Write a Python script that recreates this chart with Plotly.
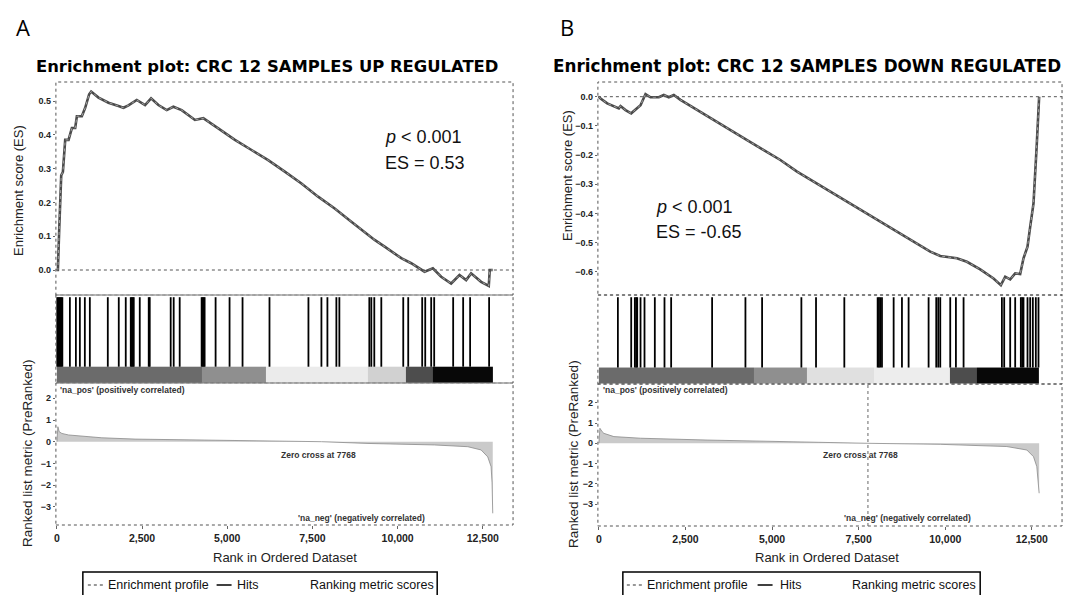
import plotly.graph_objects as go

W, H = 1080, 595


def px(x):
    return x / W


def py(y):
    return 1 - y / H


# ---------------- DATA: panel A (UP regulated) ----------------
es_rank_a = [0, 29, 68, 127, 176, 244, 342, 440, 537, 586, 732, 830, 947, 1006, 1221, 1514,
             1807, 1953, 2100, 2344, 2588, 2764, 2979, 3223, 3418, 3662, 4053, 4297, 4736,
             5225, 5713, 6201, 6689, 7178, 7666, 8154, 8643, 9131, 9326, 9619, 10107, 10400,
             10645, 10791, 11035, 11279, 11572, 11816, 12012, 12158, 12451, 12676, 12705, 12793]
es_val_a = [0.0, 0.0, 0.12, 0.28, 0.29, 0.385, 0.385, 0.42, 0.42, 0.455, 0.455, 0.48, 0.52,
            0.528, 0.51, 0.495, 0.485, 0.48, 0.487, 0.503, 0.488, 0.508, 0.488, 0.473, 0.483,
            0.473, 0.444, 0.449, 0.419, 0.385, 0.355, 0.325, 0.291, 0.256, 0.217, 0.182, 0.143,
            0.104, 0.089, 0.069, 0.035, 0.02, 0.005, -0.005, 0.005, -0.02, -0.04, -0.015, -0.03,
            -0.01, -0.035, -0.047, 0.0, 0.0]
hits_a = [10, 40, 70, 100, 130, 160, 381, 557, 674, 820, 967, 1494, 1816, 2021, 2168, 2197,
          2227, 2256, 2432, 2695, 2725, 3340, 3428, 3604, 4248, 4277, 4307, 4336, 4658, 5068,
          5449, 6240, 7383, 7764, 7940, 8203, 8291, 9170, 9229, 9316, 9522, 10166, 10312,
          10722, 10811, 10986, 11074, 11631, 11924, 12129, 12686]
metric_rank_a = [0, 29, 68, 146, 342, 830, 1318, 2295, 4248, 6201, 7768, 9131, 11084, 12060,
                 12451, 12646, 12744, 12773, 12793]
metric_val_a = [0.0, 0.69, 0.46, 0.38, 0.31, 0.23, 0.18, 0.12, 0.08, 0.05, 0.0, -0.08, -0.15,
                -0.23, -0.38, -0.7, -1.15, -1.9, -3.3]
cbar_edges_a = [0, 4248, 6133, 9131, 10254, 11035, 12793]
cbar_gray_a = [0.42, 0.56, 0.92, 0.82, 0.3, 0.03]

# ---------------- DATA: panel B (DOWN regulated) ----------------
es_rank_b = [0, 48, 240, 577, 625, 769, 933, 1106, 1202, 1346, 1490, 1731, 1875, 2019, 2163,
             2356, 2836, 3317, 3798, 4279, 4760, 5240, 5721, 6202, 6683, 7163, 7644, 8125,
             8606, 9086, 9567, 9856, 10337, 10625, 11010, 11394, 11606, 11731, 11875, 12019,
             12163, 12259, 12375, 12452, 12548, 12644, 12711]
es_val_b = [0.0, -0.006, -0.023, -0.04, -0.032, -0.046, -0.057, -0.04, -0.029, 0.009, -0.002,
            -0.002, 0.006, -0.002, 0.006, -0.011, -0.046, -0.08, -0.114, -0.149, -0.183,
            -0.217, -0.257, -0.291, -0.326, -0.36, -0.394, -0.429, -0.463, -0.497, -0.531,
            -0.546, -0.554, -0.566, -0.592, -0.623, -0.646, -0.617, -0.626, -0.606, -0.608,
            -0.554, -0.514, -0.446, -0.366, -0.16, 0.0]
hits_b = [548, 933, 1038, 1077, 1106, 1202, 1317, 1615, 1894, 2086, 3269, 4231, 4712, 5846,
          6269, 7086, 8048, 8086, 8125, 8173, 8510, 8750, 8942, 9519, 9740, 9798, 9856,
          10144, 10308, 10529, 11635, 11702, 11875, 12019, 12182, 12220, 12259, 12375,
          12452, 12529, 12615, 12692]
metric_rank_b = [0, 29, 96, 144, 433, 1202, 3125, 5048, 7768, 9856, 11779, 12356, 12548,
                 12644, 12692, 12711]
metric_val_b = [0.0, 0.74, 0.57, 0.49, 0.33, 0.25, 0.16, 0.08, 0.0, -0.05, -0.16, -0.33,
                -0.66, -1.15, -1.97, -2.46]
cbar_edges_b = [0, 4471, 6009, 7933, 10144, 10913, 12711]
cbar_gray_b = [0.42, 0.56, 0.88, 0.93, 0.3, 0.03]

zero_cross = 7768
x_ticks = [0, 2500, 5000, 7500, 10000, 12500]
x_ticktext = ["0", "2,500", "5,000", "7,500", "10,000", "12,500"]
es_ticks_a = [0.0, 0.1, 0.2, 0.3, 0.4, 0.5]
es_ticks_b = [0.0, -0.1, -0.2, -0.3, -0.4, -0.5, -0.6]
metric_ticks = [2, 1, 0, -1, -2, -3]

# ---------------- LAYOUT GEOMETRY (pixels) ----------------
panels = {
    "A": dict(x0=54, x1=512, zero=55, ppr=0.034133, es_top=82, es_bot=295,
              es_zero=270, es_unit=338.0, hit_bot=383, rk_bot=525, rk_zero=441.7,
              rk_unit=21.7),
    "B": dict(x0=597, x1=1062, zero=598, ppr=0.0347, es_top=82, es_bot=295,
              es_zero=96.7, es_unit=291.7, hit_bot=384, rk_bot=526, rk_zero=443.3,
              rk_unit=20.3),
}

fig = go.Figure()
layout_axes = {}
shapes = []
annotations = []

tick_font = dict(family="Liberation Sans", size=9, color="#222", weight="bold")
xtick_font = dict(family="Liberation Sans", size=10.5, color="#222", weight="bold")


def add_panel(key, idx0, es_r, es_v, hits, m_r, m_v, cb_edges, cb_gray, es_ticks, zline):
    g = panels[key]
    xr = [(g["x0"] - g["zero"]) / g["ppr"], (g["x1"] - g["zero"]) / g["ppr"]]
    dom = [px(g["x0"]), px(g["x1"])]
    es_rng = [(g["es_zero"] - g["es_bot"]) / g["es_unit"], (g["es_zero"] - g["es_top"]) / g["es_unit"]]
    rk_rng = [(g["rk_zero"] - g["rk_bot"]) / g["rk_unit"], (g["rk_zero"] - g["hit_bot"]) / g["rk_unit"]]
    i1, i2, i3 = idx0, idx0 + 1, idx0 + 2
    n = lambda i: "" if i == 1 else str(i)

    # ES axis
    layout_axes["xaxis" + n(i1)] = dict(domain=dom, range=xr, anchor="y" + n(i1),
                                         showticklabels=False, showgrid=False, zeroline=False,
                                         ticks="")
    layout_axes["yaxis" + n(i1)] = dict(domain=[py(g["es_bot"]), py(g["es_top"])], range=es_rng,
                                         anchor="x" + n(i1), tickvals=es_ticks, tickformat=".1f",
                                         showgrid=False, zeroline=False, ticks="outside",
                                         ticklen=2, tickcolor="#666", tickfont=tick_font)
    # hits axis
    layout_axes["xaxis" + n(i2)] = dict(domain=dom, range=xr, anchor="y" + n(i2),
                                         showticklabels=False, showgrid=False, zeroline=False,
                                         ticks="")
    layout_axes["yaxis" + n(i2)] = dict(domain=[py(g["hit_bot"]), py(g["es_bot"])], range=[0, 1],
                                         anchor="x" + n(i2), showticklabels=False,
                                         showgrid=False, zeroline=False, ticks="")
    # ranked metric axis
    layout_axes["xaxis" + n(i3)] = dict(domain=dom, range=xr, anchor="y" + n(i3),
                                         tickvals=x_ticks, ticktext=x_ticktext,
                                         showgrid=False, zeroline=False, ticks="outside",
                                         ticklen=3, tickcolor="#666", tickfont=xtick_font)
    layout_axes["yaxis" + n(i3)] = dict(domain=[py(g["rk_bot"]), py(g["hit_bot"])], range=rk_rng,
                                         anchor="x" + n(i3), tickvals=metric_ticks,
                                         showgrid=False, zeroline=False, ticks="outside",
                                         ticklen=2, tickcolor="#666", tickfont=tick_font)

    # ES curve
    fig.add_trace(go.Scatter(x=es_r, y=es_v, mode="lines", xaxis="x" + n(i1), yaxis="y" + n(i1),
                             line=dict(color="#4a4a4a", width=2.6), showlegend=False))
    fig.add_trace(go.Scatter(x=es_r, y=es_v, mode="lines", xaxis="x" + n(i1), yaxis="y" + n(i1),
                             line=dict(color="#b8b8b8", width=0.8, dash="dot"), showlegend=False))
    # colour bar
    fig.add_trace(go.Heatmap(x=cb_edges, y=[0, 0.185], z=[cb_gray], zmin=0, zmax=1,
                             colorscale=[[0, "#000000"], [1, "#ffffff"]], showscale=False,
                             xaxis="x" + n(i2), yaxis="y" + n(i2)))
    # hits
    hx, hy = [], []
    for h in hits:
        hx += [h, h, None]
        hy += [0.185, 0.975, None]
    fig.add_trace(go.Scatter(x=hx, y=hy, mode="lines", xaxis="x" + n(i2), yaxis="y" + n(i2),
                             line=dict(color="#000000", width=1.8), showlegend=False))
    # ranked metric
    fig.add_trace(go.Scatter(x=m_r, y=m_v, mode="lines", fill="tozeroy",
                             fillcolor="rgba(150,150,150,0.5)", xaxis="x" + n(i3),
                             yaxis="y" + n(i3), line=dict(color="#8a8a8a", width=0.8),
                             showlegend=False))

    # borders (dotted)
    for i in (i1, i2, i3):
        shapes.append(dict(type="rect", xref="x" + n(i) + " domain", yref="y" + n(i) + " domain",
                           x0=0, x1=1, y0=0, y1=1, line=dict(color="#555", width=1, dash="dot")))
    # ES zero line
    shapes.append(dict(type="line", xref="x" + n(i1) + " domain", yref="y" + n(i1),
                       x0=0, x1=1, y0=0, y1=0, line=dict(color="#555", width=1, dash="dot")))
    if zline:
        shapes.append(dict(type="line", xref="x" + n(i3), yref="y" + n(i3) + " domain",
                           x0=zero_cross, x1=zero_cross, y0=0, y1=1,
                           line=dict(color="#666", width=1, dash="dot")))


add_panel("A", 1, es_rank_a, es_val_a, hits_a, metric_rank_a, metric_val_a,
          cbar_edges_a, cbar_gray_a, es_ticks_a, False)
add_panel("B", 4, es_rank_b, es_val_b, hits_b, metric_rank_b, metric_val_b,
          cbar_edges_b, cbar_gray_b, es_ticks_b, True)


def txt(x, y, text, size, xanchor="center", yanchor="middle", weight="normal",
        family="Liberation Sans", color="#111", angle=0):
    annotations.append(dict(x=px(x), y=py(y), xref="paper", yref="paper", text=text,
                            showarrow=False, xanchor=xanchor, yanchor=yanchor, textangle=angle,
                            font=dict(family=family, size=size, color=color, weight=weight)))


# Panel letters
txt(12, 27, "A", 22, xanchor="left", family="Open Sans", color="#000")
txt(557, 27, "B", 22, xanchor="left", family="Open Sans", color="#000")
# Titles
txt(265.5, 66, "Enrichment plot: CRC 12 SAMPLES UP REGULATED", 16.4, weight="bold",
    family="DejaVu Sans", color="#000")
txt(806, 66, "Enrichment plot: CRC 12 SAMPLES DOWN REGULATED", 16.8, weight="bold",
    family="DejaVu Sans", color="#000")
# y titles
txt(17, 190, "Enrichment score (ES)", 13, angle=-90, color="#222")
txt(25, 453, "Ranked list metric (PreRanked)", 13.5, angle=-90, color="#222")
txt(566, 175, "Enrichment score (ES)", 13, angle=-90, color="#222")
txt(572, 454, "Ranked list metric (PreRanked)", 13.5, angle=-90, color="#222")
# x titles
txt(284, 557, "Rank in Ordered Dataset", 13, color="#222")
txt(827, 557, "Rank in Ordered Dataset", 13, color="#222")
# stats
txt(382, 137, "<i>p</i> < 0.001", 18, xanchor="left", color="#111")
txt(382, 163, "ES = 0.53", 18, xanchor="left", color="#111")
txt(653, 207, "<i>p</i> < 0.001", 18, xanchor="left", color="#111")
txt(653, 232, "ES = -0.65", 18, xanchor="left", color="#111")
# metric panel notes
for (xl, zc, neg_c) in ((56, 317, 360), (600, 860, 907)):
    txt(xl, 390, "'na_pos' (positively correlated)", 8.5, xanchor="left", weight="bold", color="#333")
    txt(zc, 455, "Zero cross at 7768", 8.5, weight="bold", color="#333")
    txt(neg_c, 518, "'na_neg' (negatively correlated)", 8.5, weight="bold", color="#333")

# Legends (boxes, samples, text)
for (bx0, bx1, ep0, htx, hl0, rtx) in ((81, 436, 86, 233, 215, 307), (622, 980, 626, 777, 757, 850)):
    shapes.append(dict(type="rect", xref="paper", yref="paper", x0=px(bx0), x1=px(bx1),
                       y0=py(600), y1=py(572), line=dict(color="#000", width=1.5)))
    shapes.append(dict(type="line", xref="paper", yref="paper", x0=px(ep0), x1=px(ep0 + 16),
                       y0=py(585), y1=py(585), line=dict(color="#777", width=1.5, dash="dot")))
    shapes.append(dict(type="line", xref="paper", yref="paper", x0=px(hl0), x1=px(hl0 + 15),
                       y0=py(585), y1=py(585), line=dict(color="#000", width=1.5)))
    txt(ep0 + 18, 585, "Enrichment profile", 12.5, xanchor="left", color="#111")
    txt(htx, 585, "Hits", 12.5, xanchor="left", color="#111")
    txt(rtx, 585, "Ranking metric scores", 12.5, xanchor="left", color="#111")

fig.update_layout(
    width=W, height=H, margin=dict(l=0, r=0, t=0, b=0),
    paper_bgcolor="white", plot_bgcolor="white",
    showlegend=False, shapes=shapes, annotations=annotations,
    font=dict(family="Liberation Sans", color="#222"),
    **layout_axes,
)

fig.write_html("out.html")
